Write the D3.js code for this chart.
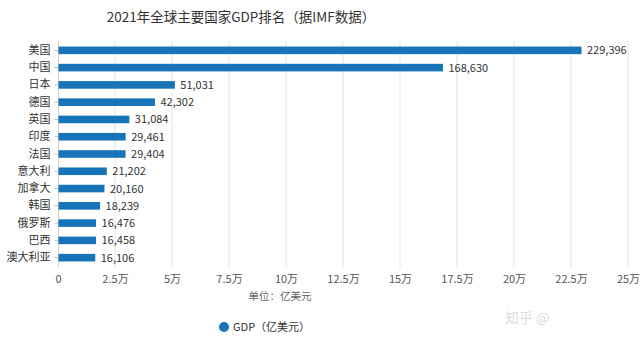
<!DOCTYPE html>
<html>
<head>
<meta charset="utf-8">
<script src="https://cdn.jsdelivr.net/npm/d3@7"></script>
<style>
  body { margin: 0; background: #fff; }
  svg { display: block; }
  text { font-family: "Noto Sans CJK SC", "Open Sans", sans-serif; }
</style>
</head>
<body>
<svg id="chart" width="640" height="342"></svg>
<script>
// 2021 GDP by country, in 100 million USD (IMF)
const countries = ["美国", "中国", "日本", "德国", "英国", "印度", "法国", "意大利", "加拿大", "韩国", "俄罗斯", "巴西", "澳大利亚"];
const gdp = [229396, 168630, 51031, 42302, 31084, 29461, 29404, 21202, 20160, 18239, 16476, 16458, 16106];
const xTicks = [0, 25000, 50000, 75000, 100000, 125000, 150000, 175000, 200000, 225000, 250000];
const xTickLabels = ["0", "2.5万", "5万", "7.5万", "10万", "12.5万", "15万", "17.5万", "20万", "22.5万", "25万"];

const title = "2021年全球主要国家GDP排名（据IMF数据）";
const unitLabel = "单位：亿美元";
const legendLabel = "GDP（亿美元）";

const svg = d3.select("#chart");
const barColor = "#1874b9";

const x = d3.scaleLinear().domain([0, 250000]).range([58, 628]);
const y = d3.scaleBand().domain(countries).range([41.7, 266.3]).paddingInner(0.56).paddingOuter(0.28);

// title
svg.append("text")
  .attr("x", 241).attr("y", 22)
  .attr("text-anchor", "middle")
  .attr("font-size", 13.5)
  .attr("fill", "#333")
  .text(title);

// vertical grid
svg.append("g")
  .selectAll("line")
  .data(xTicks.slice(1))
  .join("line")
  .attr("x1", d => x(d)).attr("x2", d => x(d))
  .attr("y1", 41).attr("y2", 267)
  .attr("stroke", "#e3e3e3").attr("stroke-width", 1);

// x axis labels
const xAxis = d3.axisBottom(x)
  .tickValues(xTicks)
  .tickFormat((d, i) => xTickLabels[i])
  .tickSize(0)
  .tickPadding(8);
const gx = svg.append("g").attr("transform", "translate(0,267)").call(xAxis);
gx.select(".domain").remove();
gx.selectAll("text").attr("font-size", 11).attr("fill", "#555")
  .attr("font-family", "'Noto Sans CJK SC', sans-serif");

// y axis
const yAxis = d3.axisLeft(y).tickSize(4).tickPadding(4);
const gy = svg.append("g").attr("transform", "translate(58.5,0)").call(yAxis);
gy.select(".domain").attr("stroke", "#cfcfcf").attr("d", "M0,41V267");
gy.selectAll(".tick line").attr("stroke", "#bbb");
gy.selectAll("text").attr("font-size", 11).attr("fill", "#333")
  .attr("font-family", "'Noto Sans CJK SC', sans-serif");

// bars
svg.append("g")
  .selectAll("rect")
  .data(countries)
  .join("rect")
  .attr("x", x(0) + 0.5)
  .attr("y", d => y(d))
  .attr("width", (d, i) => x(gdp[i]) - x(0))
  .attr("height", y.bandwidth())
  .attr("fill", barColor);

// value labels
svg.append("g")
  .selectAll("text")
  .data(countries)
  .join("text")
  .attr("x", (d, i) => x(gdp[i]) + 6)
  .attr("y", d => y(d) + y.bandwidth() / 2)
  .attr("dy", "0.36em")
  .attr("font-size", 11)
  .attr("font-family", "'Open Sans', sans-serif")
  .attr("fill", "#333")
  .text((d, i) => d3.format(",")(gdp[i]));

// axis unit
svg.append("text")
  .attr("x", 280).attr("y", 300)
  .attr("text-anchor", "middle")
  .attr("font-size", 10.5)
  .attr("fill", "#666")
  .text(unitLabel);

// legend
svg.append("circle").attr("cx", 224).attr("cy", 327).attr("r", 5).attr("fill", barColor);
svg.append("text")
  .attr("x", 233).attr("y", 331)
  .attr("font-size", 11)
  .attr("fill", "#333")
  .text(legendLabel);

// source mark
svg.append("text")
  .attr("x", 505).attr("y", 323)
  .attr("font-size", 14)
  .attr("fill", "#dcdcdc")
  .text("知乎 @");
</script>
</body>
</html>
